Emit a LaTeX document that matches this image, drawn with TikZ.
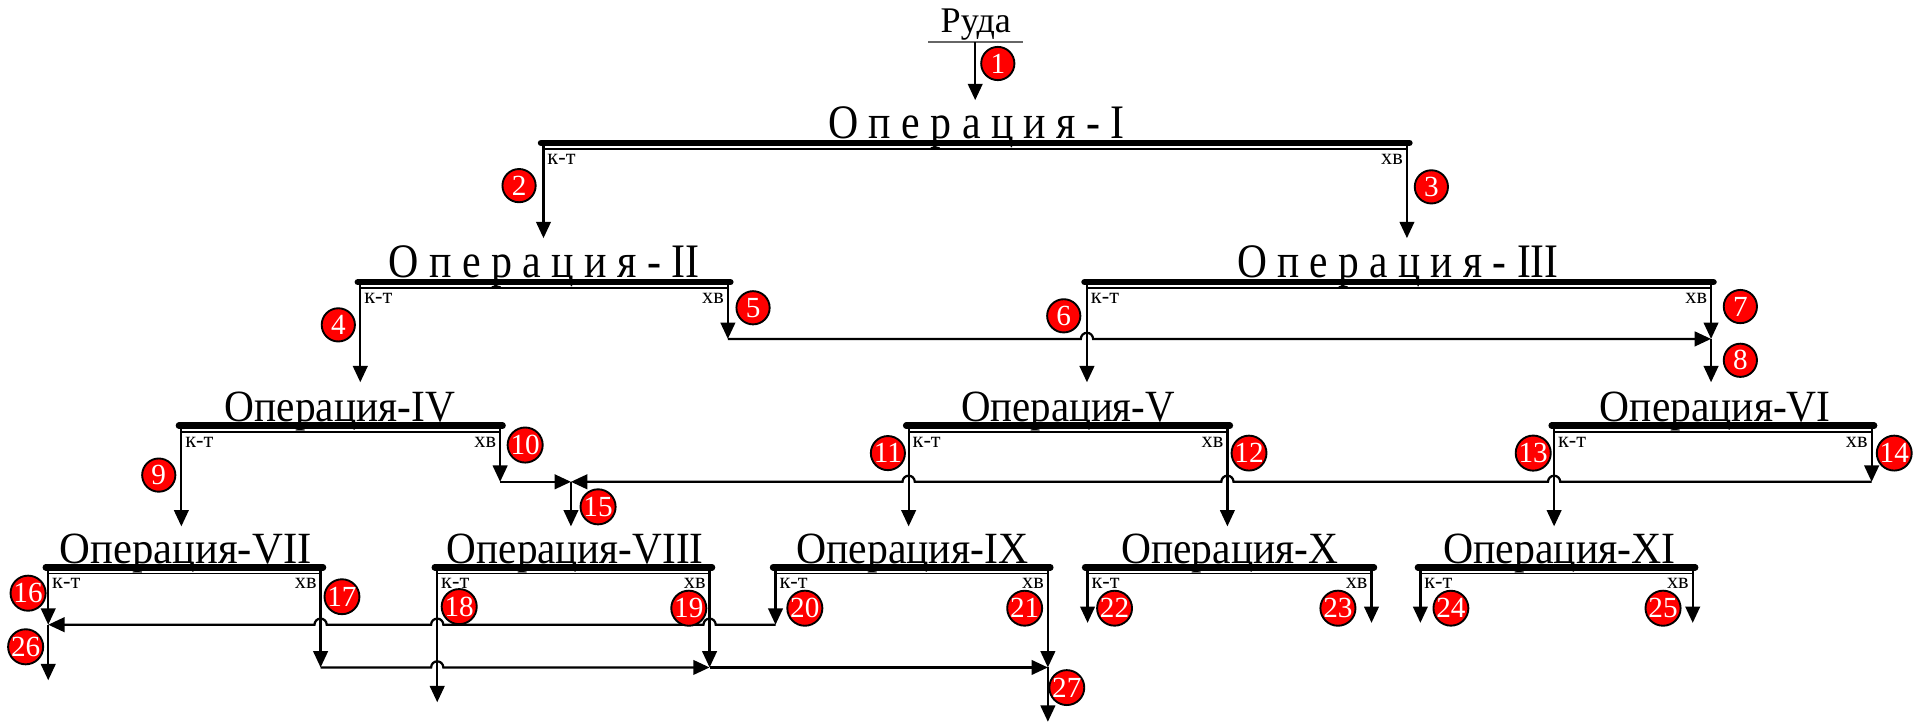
\documentclass[tikz,border=0pt]{standalone}
\usepackage{fontspec}
\setmainfont{Liberation Serif}
\usepackage{graphicx}
\usetikzlibrary{arrows.meta}
\newcommand\fitw[2]{\resizebox{#1}{\height}{#2}}
\newcommand\hopR[2]{-- (#1-5,#2) arc[start angle=180,end angle=0,radius=3.557pt]}
\newcommand\hopL[2]{-- (#1+5,#2) arc[start angle=0,end angle=180,radius=3.557pt]}
\newcommand\opbar[4]{%
  \draw[barthick] (#2-2,#4) -- (#3+2,#4);
  \draw[barthin] (#2,#4+5) -- (#3,#4+5);
  \coordinate (#1L) at (#2,#4+2);
  \coordinate (#1R) at (#3,#4+2);
  \node[lbl, anchor=base west] (#1k) at (#2+3,#4+17.5) {к-т};
  \node[lbl, anchor=base east] (#1x) at (#3-3,#4+17.5) {хв};}
\tikzset{
 barthick/.style={line width=3.8pt, line cap=round},
 barthin/.style={line width=0.9pt},
 conn/.style={line width=1.3pt},
 arr/.style={conn, -{Triangle[length=9.5pt,width=8.5pt]}},
 lbl/.style={inner sep=0, font=\fontsize{13}{13}\selectfont},
 ttlA/.style={inner sep=0, anchor=base, font=\fontsize{28}{28}\selectfont},
 ttlB/.style={inner sep=0, anchor=base, font=\fontsize{26}{26}\selectfont},
 bd/.style={circle, fill=red, draw=black, line width=1.1pt, minimum size=0.68cm, inner sep=0, text=white, font=\fontsize{17}{17}\selectfont},
}
\begin{document}
\begin{tikzpicture}[x=0.025cm,y=-0.025cm]
\useasboundingbox (0,0) rectangle (1568,592);
% Ruda
\node[inner sep=0, anchor=base, font=\fontsize{21}{21}\selectfont] (ruda) at (799,27) {Руда};
\draw[line width=1.3pt, black!60] (760,34.7) -- (838,34.7);
\coordinate (r0) at (798.5,34.7);
\coordinate (inI) at (798.5,82);
\draw[arr] (r0) -- (inI);
% Row 1
\opbar{oI}{445}{1152}{117}
\node[ttlA] (tI) at (799.5,113.5) {\fitw{6.075cm}{О п е р а ц и я - I}};
\coordinate (inII) at (445,195);
\coordinate (inIII) at (1152,195);
\draw[arr] (oIL) -- (inII);
\draw[arr] (oIR) -- (inIII);
% Row 2
\opbar{oII}{295}{596}{231}
\node[ttlA] (tII) at (445.5,227.5) {\fitw{6.375cm}{О п е р а ц и я - II}};
\opbar{oIII}{890}{1401}{231}
\node[ttlA] (tIII) at (1144.5,227.5) {\fitw{6.575cm}{О п е р а ц и я - III}};
\coordinate (inIV) at (295,313);
\coordinate (j5) at (596,277.5);
\coordinate (inV) at (890,313);
\coordinate (j8) at (1401,277.5);
\coordinate (inVI) at (1401,313);
\draw[arr] (oIIL) -- (inIV);
\draw[arr] (oIIR) -- (j5);
\draw[arr] (oIIIL) -- (inV);
\draw[arr] (oIIIR) -- (j8);
\draw[arr] (j8) -- (inVI);
\draw[arr] (j5) \hopR{890}{277.5} -- (j8);
% Row 3
\opbar{oIV}{148.5}{409.5}{348.5}
\node[ttlB] (tIV) at (278.3,345) {\fitw{4.71cm}{Операция-IV}};
\opbar{oV}{744}{1005}{348.5}
\node[ttlB] (tV) at (874.5,345) {\fitw{4.375cm}{Операция-V}};
\opbar{oVI}{1272.5}{1532.5}{348.5}
\node[ttlB] (tVI) at (1404.5,345) {\fitw{4.725cm}{Операция-VI}};
\coordinate (j10) at (409.5,394.5);
\coordinate (j15) at (467.5,394.5);
\coordinate (j14) at (1532.5,394.5);
\coordinate (inVII) at (148.5,431);
\coordinate (inVIII) at (467.5,431);
\coordinate (inIX) at (744,431);
\coordinate (inX) at (1005,431);
\coordinate (inXI) at (1272.5,431);
\draw[arr] (oIVL) -- (inVII);
\draw[arr] (oIVR) -- (j10);
\draw[arr] (j10) -- (j15);
\draw[arr] (oVIR) -- (j14);
\draw[arr] (oVL) -- (inIX);
\draw[arr] (oVR) -- (inX);
\draw[arr] (oVIL) -- (inXI);
\draw[arr] (j14) \hopL{1272.5}{394.5} \hopL{1005}{394.5} \hopL{744}{394.5} -- (j15);
\draw[arr] (j15) -- (inVIII);
% Row 4
\opbar{oVII}{39.5}{262.5}{464.5}
\node[ttlB] (tVII) at (152,461) {\fitw{5.15cm}{Операция-VII}};
\opbar{oVIII}{358}{581}{464.5}
\node[ttlB] (tVIII) at (471,461) {\fitw{5.25cm}{Операция-VIII}};
\opbar{oIX}{635}{858}{464.5}
\node[ttlB] (tIX) at (747,461) {\fitw{4.75cm}{Операция-IX}};
\opbar{oX}{890.5}{1123}{464.5}
\node[ttlB] (tX) at (1007,461) {\fitw{4.44cm}{Операция-X}};
\opbar{oXI}{1163}{1386}{464.5}
\node[ttlB] (tXI) at (1277,461) {\fitw{4.76cm}{Операция-XI}};
\coordinate (j16) at (39.5,511.5);
\coordinate (out26) at (39.5,557);
\coordinate (j20) at (635,511.5);
\coordinate (j17) at (262.5,546.5);
\coordinate (out18) at (358,575);
\coordinate (j19) at (581,546.5);
\coordinate (j21) at (858,546.5);
\coordinate (out27) at (858,591);
\coordinate (out22) at (890.5,510);
\coordinate (out23) at (1123,510);
\coordinate (out24) at (1163,510);
\coordinate (out25) at (1386,510);
\draw[arr] (oVIIL) -- (j16);
\draw[arr] (j16) -- (out26);
\draw[arr] (oIXL) -- (j20);
\draw[arr] (oVIIR) -- (j17);
\draw[arr] (oVIIIL) -- (out18);
\draw[arr] (oVIIIR) -- (j19);
\draw[arr] (oIXR) -- (j21);
\draw[arr] (j21) -- (out27);
\draw[arr] (j20) \hopL{581}{511.5} \hopL{358}{511.5} \hopL{262.5}{511.5} -- (j16);
\draw[arr] (j17) \hopR{358}{546.5} -- (j19);
\draw[arr] (j19) -- (j21);
\draw[arr] (oXL) -- (out22);
\draw[arr] (oXR) -- (out23);
\draw[arr] (oXIL) -- (out24);
\draw[arr] (oXIR) -- (out25);
% Badges
\node[bd] (b1) at (817,52) {1};
\node[bd] (b2) at (425,152) {2};
\node[bd] (b3) at (1172,153) {3};
\node[bd] (b4) at (277,266) {4};
\node[bd] (b5) at (616.6,252) {5};
\node[bd] (b6) at (871,258.6) {6};
\node[bd] (b7) at (1425,251) {7};
\node[bd] (b8) at (1425,295) {8};
\node[bd] (b9) at (130,389) {9};
\node[bd] (b10) at (430,364.4) {10};
\node[bd] (b11) at (727,371) {11};
\node[bd] (b12) at (1022.7,371) {12};
\node[bd] (b13) at (1255.4,371) {13};
\node[bd] (b14) at (1551,371) {14};
\node[bd] (b15) at (489.7,415) {15};
\node[bd] (b16) at (23,485.7) {16};
\node[bd] (b17) at (280,488.6) {17};
\node[bd] (b18) at (376,496.7) {18};
\node[bd] (b19) at (564,498) {19};
\node[bd] (b20) at (659,498) {20};
\node[bd] (b21) at (839,498) {21};
\node[bd] (b22) at (912.6,498) {22};
\node[bd] (b23) at (1095.5,498) {23};
\node[bd] (b24) at (1188,498) {24};
\node[bd] (b25) at (1361.7,498) {25};
\node[bd] (b26) at (21,529.6) {26};
\node[bd] (b27) at (873.5,563) {27};
\end{tikzpicture}
\end{document}
